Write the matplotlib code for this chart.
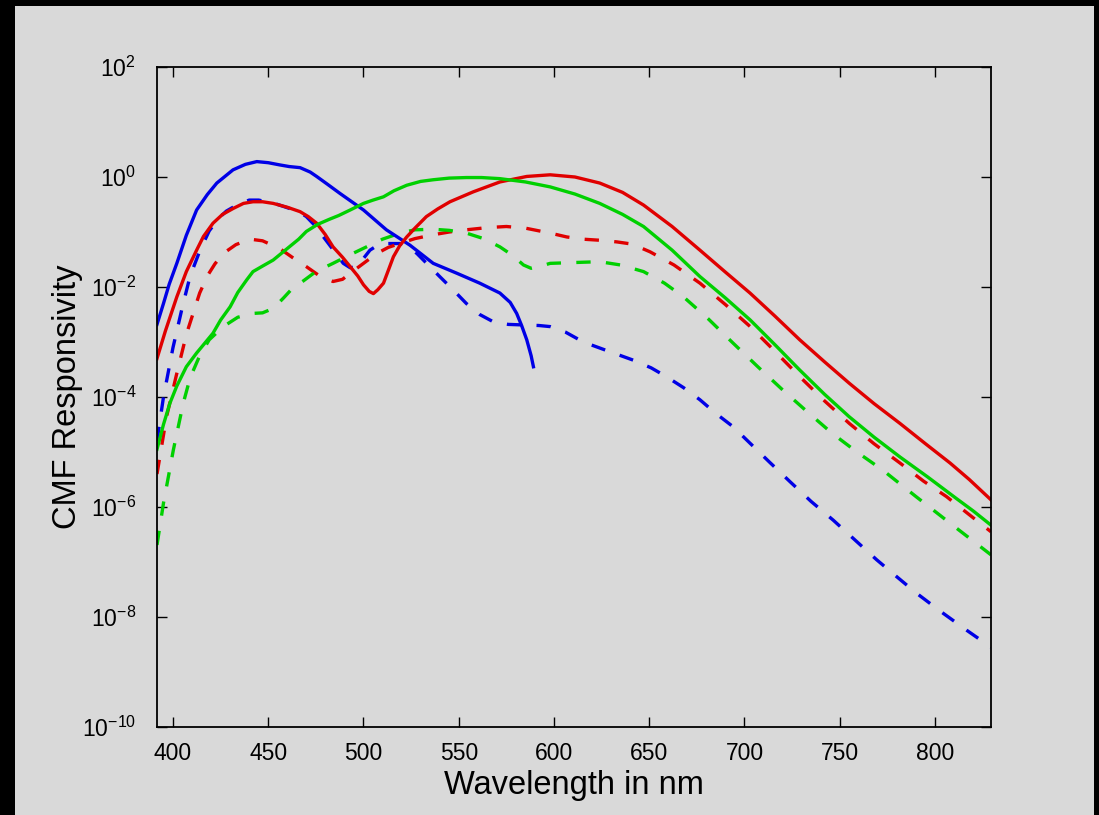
import numpy as np
import matplotlib
matplotlib.use("Agg")
import matplotlib.pyplot as plt
from matplotlib.patches import Rectangle
from matplotlib.ticker import FixedLocator, NullLocator, LogFormatterSciNotation

plt.rcParams['font.family'] = ['Liberation Sans', 'DejaVu Sans']
plt.rcParams['mathtext.fontset'] = 'custom'
plt.rcParams['mathtext.rm'] = 'Liberation Sans'
plt.rcParams['mathtext.it'] = 'Liberation Sans:italic'
plt.rcParams['mathtext.bf'] = 'Liberation Sans:bold'

# values: wavelength (nm) and log10 of responsivity
blue_solid_wl = [391.6, 395, 398, 402, 407, 412.4, 418, 423, 431.5, 438, 444, 450, 456, 461, 466.7,
                 472, 475.4, 481, 487.7, 500, 512, 524.4, 536.6, 549, 561, 571.6, 577, 580.4,
                 583, 585.7, 588, 589.2]
blue_solid_log = [-2.68, -2.3, -1.95, -1.57, -1.06, -0.6, -0.32, -0.11, 0.13, 0.23, 0.28, 0.26, 0.22,
                  0.19, 0.17, 0.09, 0.01, -0.13, -0.30, -0.6, -0.96, -1.24, -1.57, -1.75, -1.93,
                  -2.11, -2.28, -2.48, -2.7, -2.96, -3.25, -3.45]

red_solid_wl = [391.6, 396, 402, 407, 412.4, 416, 421, 426, 431.7, 437, 442, 447, 452.6, 460, 466.7,
                471, 475.4, 480, 484, 489, 493, 497, 500, 503, 505.2, 507.5, 510.5, 513, 515.7,
                519, 522.7, 527, 533, 539, 545.4, 557.6, 571.6, 585.7, 598, 611, 624, 636, 647,
                662, 676.6, 690, 702.9, 716, 729, 742, 755, 768, 781.6, 795, 807.9, 818, 829.4]
red_solid_log = [-3.3, -2.8, -2.18, -1.72, -1.33, -1.08, -0.84, -0.68, -0.57, -0.48, -0.45, -0.45,
                 -0.48, -0.55, -0.63, -0.72, -0.84, -1.05, -1.27, -1.46, -1.63, -1.8, -1.96, -2.08,
                 -2.12, -2.05, -1.93, -1.7, -1.45, -1.25, -1.09, -0.93, -0.72, -0.58, -0.45, -0.27,
                 -0.09, 0.01, 0.04, 0.0, -0.11, -0.28, -0.51, -0.9, -1.33, -1.73, -2.11, -2.53,
                 -2.96, -3.36, -3.75, -4.12, -4.48, -4.85, -5.2, -5.5, -5.87]

green_solid_wl = [391.6, 395, 398.4, 402, 407, 412.4, 416, 421, 425, 430, 434, 438.7, 442, 447,
                  452.6, 460, 466, 470, 476, 482, 487, 493, 500, 505, 510.5, 516, 522.7, 530,
                  536.6, 545, 554, 562, 571.6, 585, 598, 611, 624, 636, 647, 662, 676.6, 690, 703,
                  716, 729, 742, 755, 768, 781.6, 796, 811, 820, 829.4]
green_solid_log = [-4.95, -4.5, -4.11, -3.8, -3.45, -3.2, -3.05, -2.84, -2.6, -2.36, -2.1, -1.87,
                   -1.72, -1.62, -1.51, -1.3, -1.13, -0.99, -0.86, -0.77, -0.7, -0.6, -0.48, -0.42,
                   -0.36, -0.25, -0.15, -0.08, -0.05, -0.02, -0.01, -0.01, -0.03, -0.09, -0.18,
                   -0.31, -0.48, -0.68, -0.9, -1.33, -1.81, -2.2, -2.6, -3.05, -3.51, -3.95, -4.36,
                   -4.73, -5.09, -5.45, -5.84, -6.07, -6.33]

blue_dash_wl = [391.6, 395, 400, 405, 409, 414, 419, 424, 428, 434, 440, 445, 449, 455, 461, 466,
                470, 475, 479, 484, 489.4, 493, 496.4, 500, 503.4, 507, 510.5, 519.2, 524, 528,
                534, 540, 547, 554, 561, 568, 576, 584, 592, 598, 606, 615.4, 628, 641.6, 651,
                659, 668, 676.6, 685, 694, 702.9, 713, 723.9, 735, 746.6, 758, 769.4, 780,
                790.4, 803, 816.6, 829.4]
blue_dash_log = [-4.8, -4.0, -3.1, -2.35, -1.8, -1.35, -0.98, -0.75, -0.62, -0.5, -0.42, -0.42,
                 -0.45, -0.5, -0.57, -0.63, -0.72, -0.9, -1.09, -1.32, -1.57, -1.65, -1.63, -1.48,
                 -1.33, -1.25, -1.21, -1.21, -1.28, -1.39, -1.6, -1.81, -2.05, -2.3, -2.5, -2.63,
                 -2.68, -2.69, -2.7, -2.72, -2.82, -3.0, -3.16, -3.33, -3.47, -3.63, -3.83, -4.05,
                 -4.3, -4.54, -4.84, -5.18, -5.54, -5.9, -6.24, -6.6, -6.96, -7.27, -7.57, -7.9,
                 -8.24, -8.55]

red_dash_wl = [391.6, 396.6, 402, 407.2, 414, 418, 422, 426.4, 433, 440.4, 447, 456, 463, 470, 477,
               484, 489, 493, 500, 507, 513, 519, 527, 536.6, 545, 554, 565, 575, 585, 598, 606.7,
               615, 624, 633, 641, 650.4, 663, 676.6, 690, 703, 716, 729, 742, 755, 768, 781.6,
               794, 806, 818, 829.4]
red_dash_log = [-5.4, -4.36, -3.57, -2.84, -2.11, -1.8, -1.58, -1.39, -1.23, -1.13, -1.16, -1.3,
                -1.47, -1.63, -1.8, -1.9, -1.86, -1.75, -1.57, -1.39, -1.28, -1.21, -1.12, -1.05,
                -1.0, -0.96, -0.92, -0.9, -0.93, -1.02, -1.09, -1.13, -1.15, -1.18, -1.22, -1.36,
                -1.6, -1.93, -2.32, -2.72, -3.17, -3.63, -4.07, -4.48, -4.85, -5.2, -5.53, -5.81,
                -6.14, -6.45]

green_dash_wl = [391.6, 395, 400.2, 405.4, 409, 414, 419, 426.4, 434, 442, 447, 452.6, 458, 462,
                 468, 475, 484, 492, 501.6, 510, 519.2, 527, 536.6, 545, 554, 563, 571.6, 578, 584,
                 588, 593, 598, 606.7, 615, 624, 635, 647, 658, 668, 681, 694, 707, 720, 733, 746,
                 759, 772.6, 790, 810, 829.4]
green_dash_log = [-6.69, -5.93, -4.96, -4.11, -3.65, -3.25, -2.96, -2.72, -2.55, -2.48, -2.47,
                  -2.39, -2.2, -2.05, -1.9, -1.72, -1.57, -1.43, -1.27, -1.13, -1.02, -0.96, -0.95,
                  -0.97, -1.02, -1.12, -1.27, -1.42, -1.6, -1.66, -1.62, -1.57, -1.56, -1.55,
                  -1.54, -1.6, -1.72, -1.93, -2.18, -2.58, -3.02, -3.45, -3.87, -4.27, -4.66, -5.0,
                  -5.33, -5.81, -6.35, -6.87]

y_exponents = [-10, -8, -6, -4, -2, 0, 2]
x_ticks = [400, 450, 500, 550, 600, 650, 700, 750, 800]

bg = '#d9d9d9'
blue, red, green = '#0000e6', '#e00000', '#00d000'

fig = plt.figure(figsize=(10.99, 8.15), dpi=100)
fig.patch.set_facecolor('black')
fig.patches.append(Rectangle((15 / 1099, 0), (1094 - 15) / 1099, 809 / 815,
                             transform=fig.transFigure, facecolor=bg, edgecolor='none', zorder=-1))

ax = fig.add_axes([157 / 1099, 88 / 815, 834 / 1099, 660 / 815])
ax.set_facecolor(bg)

lw = 2.4
dash = (4.3, 4.6)
series = [
    (blue_dash_wl, blue_dash_log, blue, True),
    (red_dash_wl, red_dash_log, red, True),
    (green_dash_wl, green_dash_log, green, True),
    (blue_solid_wl, blue_solid_log, blue, False),
    (red_solid_wl, red_solid_log, red, False),
    (green_solid_wl, green_solid_log, green, False),
]
for wl, lg, c, dashed in series:
    vals = 10.0 ** np.array(lg)
    if dashed:
        ax.plot(wl, vals, color=c, lw=lw, dashes=dash, solid_joinstyle='round')
    else:
        ax.plot(wl, vals, color=c, lw=lw, solid_joinstyle='round')

ax.set_yscale('log')
ax.set_xlim(391.6, 829.4)
ax.set_ylim(1e-10, 1e2)
ax.yaxis.set_major_locator(FixedLocator([10.0 ** e for e in y_exponents]))
ax.yaxis.set_major_formatter(LogFormatterSciNotation())
ax.yaxis.set_minor_locator(NullLocator())
ax.xaxis.set_major_locator(FixedLocator(x_ticks))

for s in ax.spines.values():
    s.set_linewidth(1.3)
ax.tick_params(which='major', direction='in', length=7, width=1.0, top=True, right=True,
               labelsize=16.5, colors='black')
ax.tick_params(axis='x', pad=11)
ax.tick_params(axis='y', pad=15)

ax.set_xlabel('Wavelength in nm', fontsize=23.5)
ax.set_ylabel('CMF Responsivity', fontsize=23.5)
ax.xaxis.set_label_coords(0.5, -(770 - 727) / 660)
ax.yaxis.set_label_coords(-(157 - 83) / 834, 0.5)

fig.savefig('out.png', dpi=100, facecolor=fig.get_facecolor())
